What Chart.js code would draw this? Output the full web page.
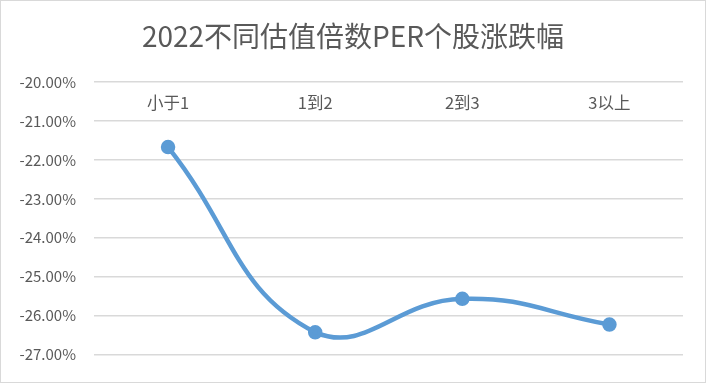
<!DOCTYPE html>
<html>
<head>
<meta charset="utf-8">
<script src="https://cdn.jsdelivr.net/npm/chart.js@4/dist/chart.umd.min.js"></script>
<style>
  html, body { margin: 0; padding: 0; background: #fff; }
  #box { width: 706px; height: 383px; box-sizing: border-box; border: 1px solid #d9d9d9; }
</style>
</head>
<body>
<div id="box"><canvas id="myChart" width="704" height="381"></canvas></div>
<script>
// categories and values (percent)
const categories = ['小于1', '1到2', '2到3', '3以上'];
const changes = [-21.67, -26.43, -25.57, -26.23];
const yMin = -27;
const yMax = -20;

// category labels sit just under the top gridline, like the Excel original
const topLabels = {
    id: 'topLabels',
    afterDraw(chart) {
        const ctx = chart.ctx;
        const x = chart.scales.x;
        const y = chart.scales.y;
        ctx.save();
        ctx.font = '16.5px "Noto Sans CJK SC", sans-serif';
        ctx.fillStyle = '#595959';
        ctx.textAlign = 'center';
        ctx.textBaseline = 'middle';
        categories.forEach((c, i) => {
            ctx.fillText(c, x.getPixelForValue(i), y.getPixelForValue(-20.52));
        });
        ctx.restore();
    }
};

const ctx = document.getElementById('myChart').getContext('2d');
const myChart = new Chart(ctx, {
    type: 'line',
    data: {
        labels: categories,
        datasets: [{
            label: '涨跌幅',
            data: changes,
            borderColor: '#5b9bd5',
            backgroundColor: '#5b9bd5',
            borderWidth: 4.5,
            pointRadius: 5,
            pointHoverRadius: 5,
            tension: 0.45,
            fill: false
        }]
    },
    options: {
        responsive: false,
        animation: false,
        layout: { padding: { left: 0, right: 0, top: 0, bottom: 19.5 } },
        plugins: {
            legend: { display: false },
            tooltip: { enabled: false },
            title: {
                display: true,
                text: '2022不同估值倍数PER个股涨跌幅',
                color: '#595959',
                font: { family: '"Noto Sans CJK SC", sans-serif', size: 28, weight: 'normal' },
                padding: { top: 19, bottom: 28.5 }
            }
        },
        scales: {
            x: {
                display: false,
                offset: true
            },
            y: {
                min: yMin,
                max: yMax,
                ticks: {
                    stepSize: 1,
                    padding: 18.5,
                    color: '#595959',
                    font: { family: '"Noto Sans CJK SC", sans-serif', size: 15 },
                    callback: v => v.toFixed(2) + '%'
                },
                grid: { color: '#d9d9d9', lineWidth: 1.5, drawTicks: false },
                border: { display: false }
            },
            // empty right axis, only to keep the gap at the right edge
            yRight: {
                position: 'right',
                min: yMin,
                max: yMax,
                ticks: { display: false },
                grid: { display: false },
                border: { display: false },
                afterFit: scale => { scale.width = 22; }
            }
        }
    },
    plugins: [topLabels]
});
</script>
</body>
</html>
